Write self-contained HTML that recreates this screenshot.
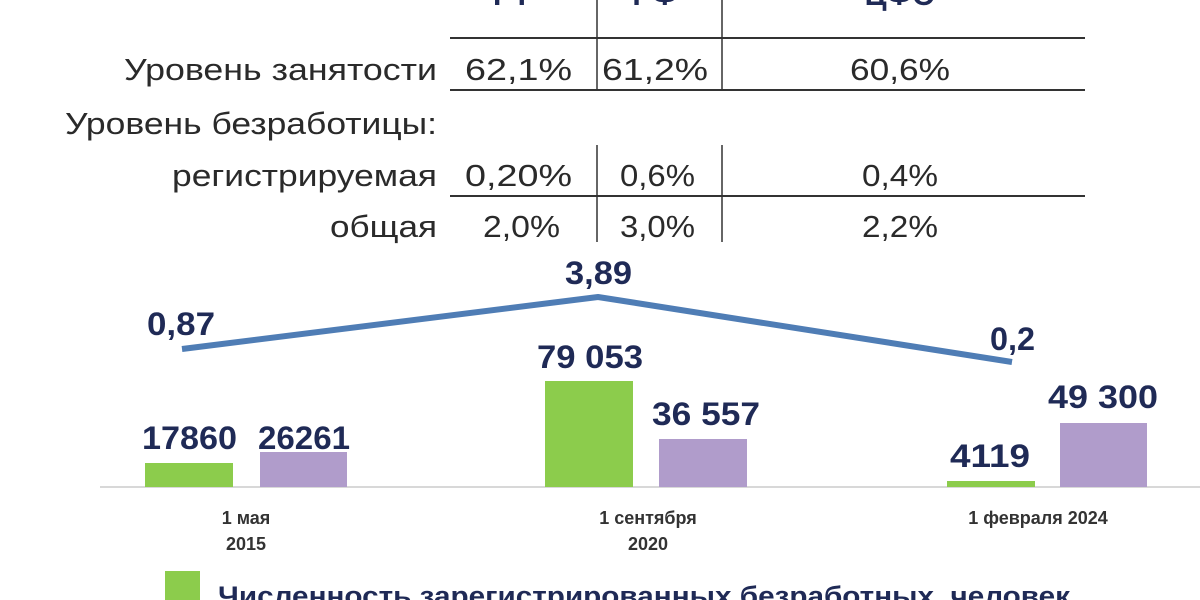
<!DOCTYPE html>
<html><head><meta charset="utf-8"><style>
html,body{margin:0;padding:0;background:#fff;width:1200px;height:600px;overflow:hidden}
svg{display:block}
.t{font-family:"Liberation Sans",sans-serif;font-size:31px;fill:#2a2a2a}
.b{font-family:"Liberation Sans",sans-serif;font-weight:bold;fill:#1f2a56}
</style></head><body>
<svg width="1200" height="600" viewBox="0 0 1200 600">
<g class="b" font-size="30" text-anchor="middle">
<text x="512" y="5">РТ</text><text x="655" y="5">РФ</text><text x="900" y="5">ЦФО</text>
</g>
<g stroke="#333" stroke-width="2">
<line x1="450" y1="38" x2="1085" y2="38"/>
<line x1="450" y1="90" x2="1085" y2="90"/>
<line x1="450" y1="196" x2="1085" y2="196"/>
<line x1="597" y1="0" x2="597" y2="90" stroke-width="1.5"/>
<line x1="722" y1="0" x2="722" y2="90" stroke-width="1.5"/>
<line x1="597" y1="145" x2="597" y2="242" stroke-width="1.5"/>
<line x1="722" y1="145" x2="722" y2="242" stroke-width="1.5"/>
</g>
<g class="t" lengthAdjust="spacingAndGlyphs">
<text x="437" y="80" text-anchor="end" textLength="313" lengthAdjust="spacingAndGlyphs">Уровень занятости</text>
<text x="437" y="134" text-anchor="end" textLength="372" lengthAdjust="spacingAndGlyphs">Уровень безработицы:</text>
<text x="437" y="186" text-anchor="end" textLength="265" lengthAdjust="spacingAndGlyphs">регистрируемая</text>
<text x="437" y="237" text-anchor="end" textLength="107" lengthAdjust="spacingAndGlyphs">общая</text>
<text x="465" y="80" textLength="107" lengthAdjust="spacingAndGlyphs">62,1%</text>
<text x="602" y="80" textLength="106" lengthAdjust="spacingAndGlyphs">61,2%</text>
<text x="850" y="80" textLength="100" lengthAdjust="spacingAndGlyphs">60,6%</text>
<text x="465" y="186" textLength="107" lengthAdjust="spacingAndGlyphs">0,20%</text>
<text x="620" y="186" textLength="75" lengthAdjust="spacingAndGlyphs">0,6%</text>
<text x="862" y="186" textLength="76" lengthAdjust="spacingAndGlyphs">0,4%</text>
<text x="483" y="237" textLength="77" lengthAdjust="spacingAndGlyphs">2,0%</text>
<text x="620" y="237" textLength="75" lengthAdjust="spacingAndGlyphs">3,0%</text>
<text x="862" y="237" textLength="76" lengthAdjust="spacingAndGlyphs">2,2%</text>
</g>
<line x1="100" y1="487" x2="1200" y2="487" stroke="#d8d8d8" stroke-width="2"/>
<g fill="#8ccc4c">
<rect x="145" y="463" width="88" height="24"/>
<rect x="545" y="381" width="88" height="106"/>
<rect x="947" y="481" width="88" height="6"/>
</g>
<g fill="#b09ccb">
<rect x="260" y="452" width="87" height="35"/>
<rect x="659" y="439" width="88" height="48"/>
<rect x="1060" y="423" width="87" height="64"/>
</g>
<polyline points="182,349 598,297 1012,362" fill="none" stroke="#4f7db5" stroke-width="6" stroke-linejoin="round"/>
<g class="b" font-size="32">
<text x="142" y="449" textLength="95" lengthAdjust="spacingAndGlyphs">17860</text>
<text x="258" y="449" textLength="92" lengthAdjust="spacingAndGlyphs">26261</text>
<text x="537" y="368" textLength="106" lengthAdjust="spacingAndGlyphs">79 053</text>
<text x="652" y="425" textLength="108" lengthAdjust="spacingAndGlyphs">36 557</text>
<text x="950" y="467" textLength="80" lengthAdjust="spacingAndGlyphs">4119</text>
<text x="1048" y="408" textLength="110" lengthAdjust="spacingAndGlyphs">49 300</text>
<text x="147" y="335" textLength="68" lengthAdjust="spacingAndGlyphs">0,87</text>
<text x="565" y="284" textLength="67" lengthAdjust="spacingAndGlyphs">3,89</text>
<text x="990" y="350" textLength="45" lengthAdjust="spacingAndGlyphs">0,2</text>
</g>
<g class="b" font-size="18" text-anchor="middle" style="fill:#333">
<text x="246" y="524">1 мая</text><text x="246" y="550">2015</text>
<text x="648" y="524">1 сентября</text><text x="648" y="550">2020</text>
<text x="1038" y="524">1 февраля 2024</text>
</g>
<rect x="165" y="571" width="35" height="30" fill="#8ccc4c"/>
<text class="b" x="218" y="605" font-size="27" textLength="852" lengthAdjust="spacingAndGlyphs">Численность зарегистрированных безработных, человек</text>
</svg>
</body></html>
